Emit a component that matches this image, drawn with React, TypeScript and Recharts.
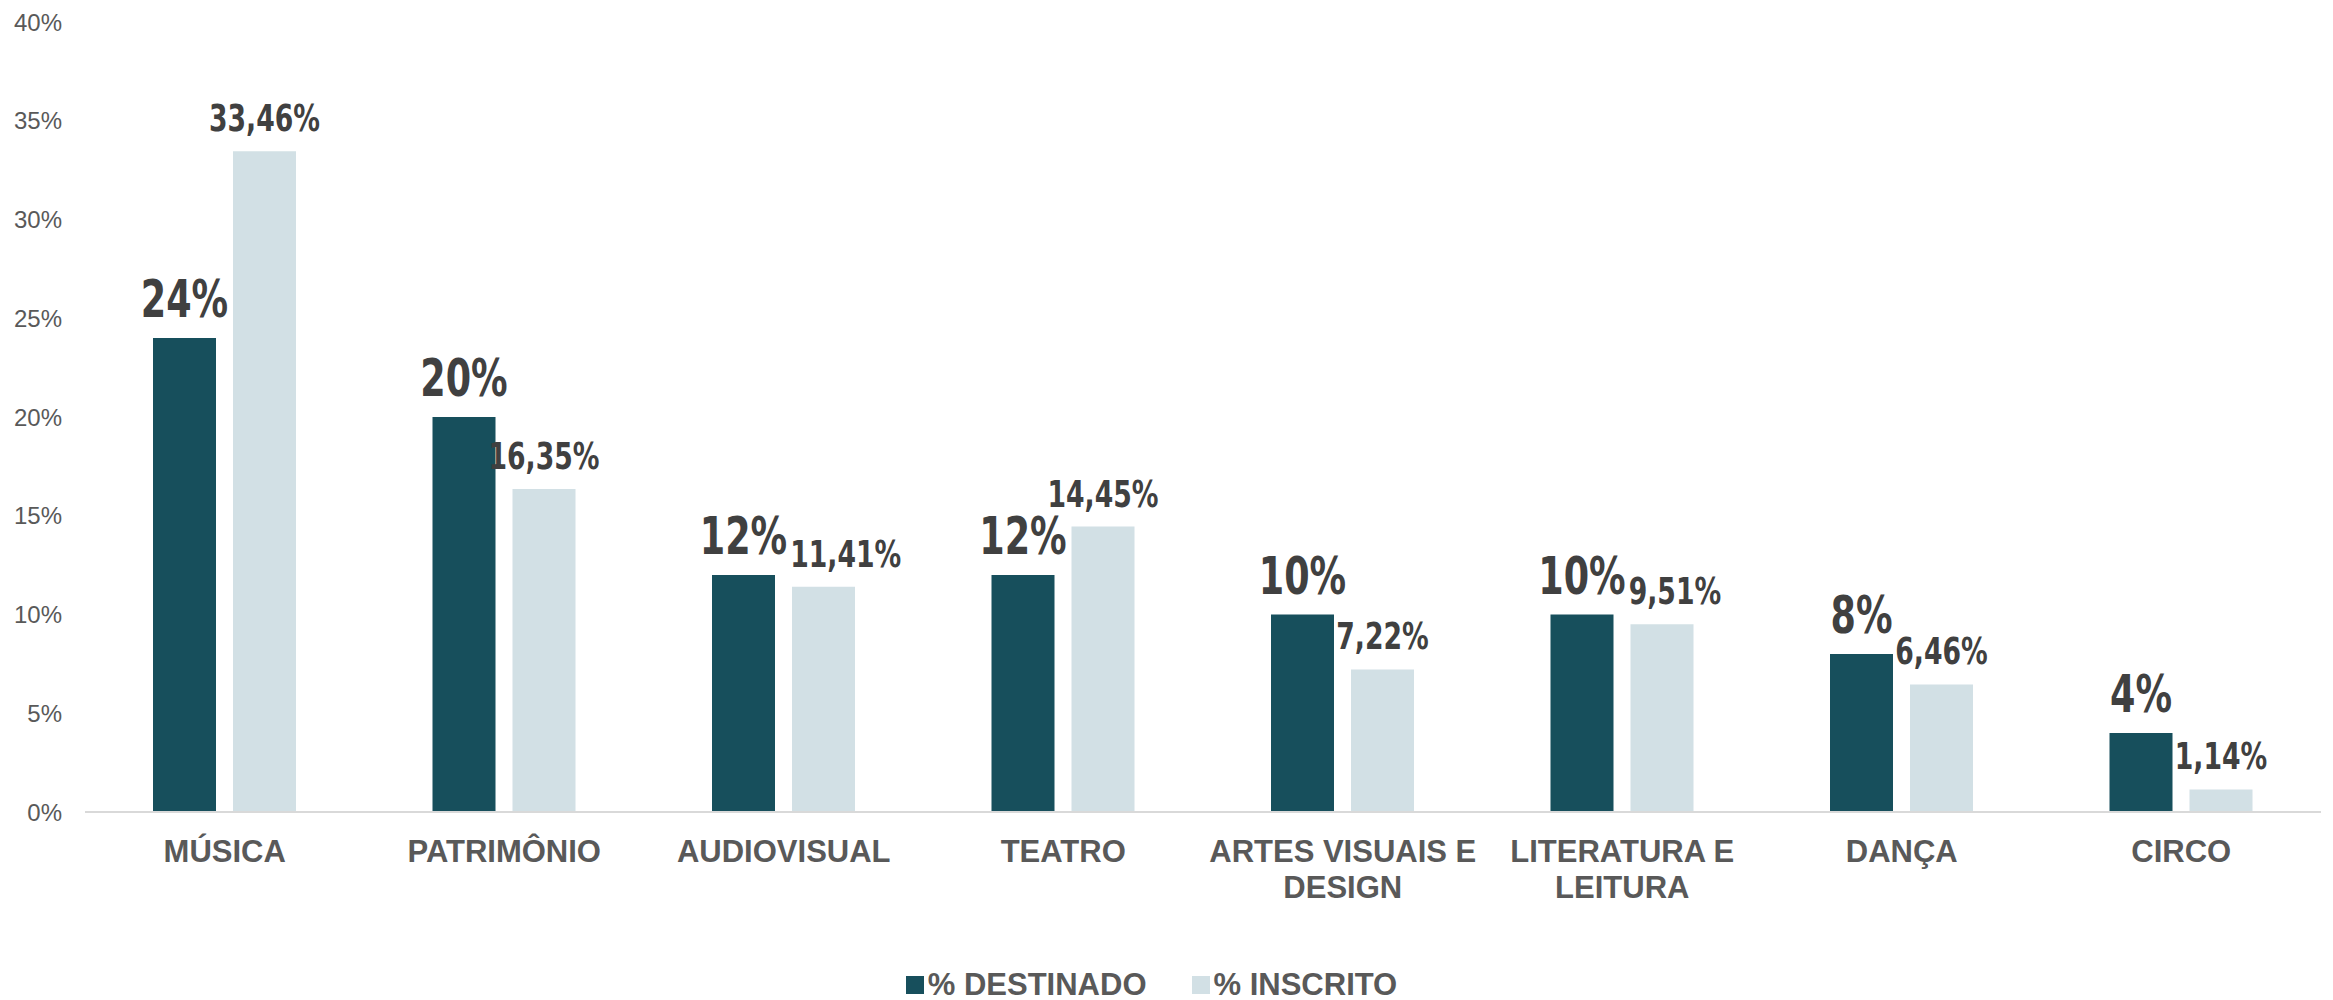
import React from 'react';
import { BarChart, Bar, XAxis, YAxis, Legend, LabelList } from 'recharts';

const categories = [
  'MÚSICA',
  'PATRIMÔNIO',
  'AUDIOVISUAL',
  'TEATRO',
  'ARTES VISUAIS E\nDESIGN',
  'LITERATURA E\nLEITURA',
  'DANÇA',
  'CIRCO',
];
const destinado = [24, 20, 12, 12, 10, 10, 8, 4];
const inscrito = [33.46, 16.35, 11.41, 14.45, 7.22, 9.51, 6.46, 1.14];
const yTicks = [0, 5, 10, 15, 20, 25, 30, 35, 40];
const seriesNames = ['% DESTINADO', '% INSCRITO'];

const DARK = '#174F5C';
const LIGHT = '#D2E0E5';
const AXIS_TEXT = '#595959';
const LABEL_TEXT = '#404040';
const SANS = "'Liberation Sans', Arial, sans-serif";
const NARROW = "'DejaVu Sans Condensed', 'DejaVu Sans', sans-serif";

const BAR_SIZE = 63;
const BAR_GAP = 17;
const SCALE_X = 0.78;
const DEST_FS = 52;
const INSC_FS = 38;
const DEST_OFF = 21;
const INSC_OFF = 20;

const data = categories.map((c, i) => ({ name: c, destinado: destinado[i], inscrito: inscrito[i] }));

const fmtDest = (v: any) => `${v}%`;
const fmtInsc = (v: any) => `${Number(v).toFixed(2).replace('.', ',')}%`;

let ctx: CanvasRenderingContext2D | null = null;
const measure = (text: string, fs: number) => {
  try {
    if (!ctx) ctx = document.createElement('canvas').getContext('2d');
    if (ctx) {
      ctx.font = `bold condensed ${fs}px 'DejaVu Sans Condensed', 'DejaVu Sans', sans-serif`;
      return ctx.measureText(text).width * SCALE_X;
    }
  } catch (e) {}
  return text.length * fs * 0.6 * SCALE_X;
};

const LabelText = ({ cx, by, fs, text }: any) => (
  <text
    transform={`translate(${cx},${by}) scale(${SCALE_X},1)`}
    x={0}
    y={0}
    textAnchor="middle"
    fill={LABEL_TEXT}
    fontSize={fs}
    fontWeight={700}
    fontFamily={NARROW}
    style={{ fontStretch: 'condensed' }}
  >
    {text}
  </text>
);

const getBox = (props: any) => {
  const vb = props.viewBox || props;
  const x = Number(vb.x);
  const y = Number(vb.y);
  const width = Number(vb.width);
  const height = Number(vb.height);
  const top = height < 0 ? y + height : y;
  return { x, top, width, h: Math.abs(height) };
};

const DestLabel = (props: any) => {
  const { x, top, width } = getBox(props);
  if (!isFinite(x) || !isFinite(top)) return null;
  return <LabelText cx={x + width / 2} by={top - DEST_OFF} fs={DEST_FS} text={fmtDest(props.value)} />;
};

const InscLabel = (props: any) => {
  const { x, top, width, h } = getBox(props);
  if (!isFinite(x) || !isFinite(top)) return null;
  const value = Number(props.value);
  const text = fmtInsc(value);
  let cx = x + width / 2;
  const by = top - INSC_OFF;
  const idx = Number(props.index);
  const dv = destinado[idx];
  if (dv !== undefined && value > 0 && h > 0) {
    // avoid collision with the neighbouring dark-bar label
    const ppu = h / value;
    const base = top + h;
    const darkTop = base - dv * ppu;
    const dBottom = darkTop - DEST_OFF;
    const dTopY = dBottom - 0.73 * DEST_FS;
    const lBottom = by + 0.15 * INSC_FS;
    const lTopY = by - 0.73 * INSC_FS;
    const vOverlap = lTopY < dBottom && lBottom > dTopY;
    if (vOverlap) {
      const darkCx = x - BAR_GAP - BAR_SIZE / 2;
      const darkW = measure(fmtDest(dv), DEST_FS);
      const ownW = measure(text, INSC_FS);
      const darkRight = darkCx + darkW / 2;
      const ownLeft = cx - ownW / 2;
      const gap = 3;
      if (ownLeft < darkRight + gap) cx += darkRight + gap - ownLeft;
    }
  }
  return <LabelText cx={cx} by={by} fs={INSC_FS} text={text} />;
};

const CategoryTick = (props: any) => {
  const { x, y, payload } = props;
  const lines = String(payload.value).split('\n');
  return (
    <text x={x} y={y} textAnchor="middle" fill={AXIS_TEXT} fontSize={31} fontWeight={700} fontFamily={SANS}>
      {lines.map((l, i) => (
        <tspan key={i} x={x} dy={i === 0 ? 50 : 36}>
          {l}
        </tspan>
      ))}
    </text>
  );
};

const LegendContent = () => (
  <div
    style={{
      height: 30,
      display: 'flex',
      justifyContent: 'center',
      alignItems: 'center',
      paddingRight: 30,
      fontFamily: SANS,
      fontWeight: 700,
      fontSize: 31,
      color: AXIS_TEXT,
      lineHeight: '30px',
    }}
  >
    {seriesNames.map((n, i) => (
      <div key={n} style={{ display: 'flex', alignItems: 'center', marginLeft: i === 0 ? 0 : 45 }}>
        <span style={{ width: 18, height: 18, background: i === 0 ? DARK : LIGHT, display: 'inline-block', marginRight: 4 }} />
        <span>{n}</span>
      </div>
    ))}
  </div>
);

export default function App() {
  return (
    <div style={{ position: 'absolute', left: 0, top: 0, width: 2333, height: 1000, background: '#fff' }}>
      <BarChart
        width={2333}
        height={1000}
        data={data}
        margin={{ top: 22, right: 12, left: 0, bottom: 0 }}
        barSize={BAR_SIZE}
        barGap={BAR_GAP}
      >
        <XAxis
          dataKey="name"
          height={158}
          interval={0}
          tickLine={false}
          tickSize={0}
          tickMargin={0}
          axisLine={{ stroke: '#D9D9D9', strokeWidth: 2 }}
          tick={<CategoryTick />}
        />
        <YAxis
          domain={[0, 40]}
          ticks={yTicks}
          tickFormatter={(v: any) => `${v}%`}
          axisLine={false}
          tickLine={false}
          tickSize={0}
          tickMargin={23}
          width={85}
          tick={{ fill: AXIS_TEXT, fontSize: 24, fontFamily: SANS }}
        />
        <Legend verticalAlign="bottom" content={<LegendContent />} wrapperStyle={{ left: 0, width: 2333 }} />
        <Bar dataKey="destinado" name={seriesNames[0]} fill={DARK} isAnimationActive={false}>
          <LabelList dataKey="destinado" position="top" content={DestLabel} />
        </Bar>
        <Bar dataKey="inscrito" name={seriesNames[1]} fill={LIGHT} isAnimationActive={false}>
          <LabelList dataKey="inscrito" position="top" content={InscLabel} />
        </Bar>
      </BarChart>
    </div>
  );
}
